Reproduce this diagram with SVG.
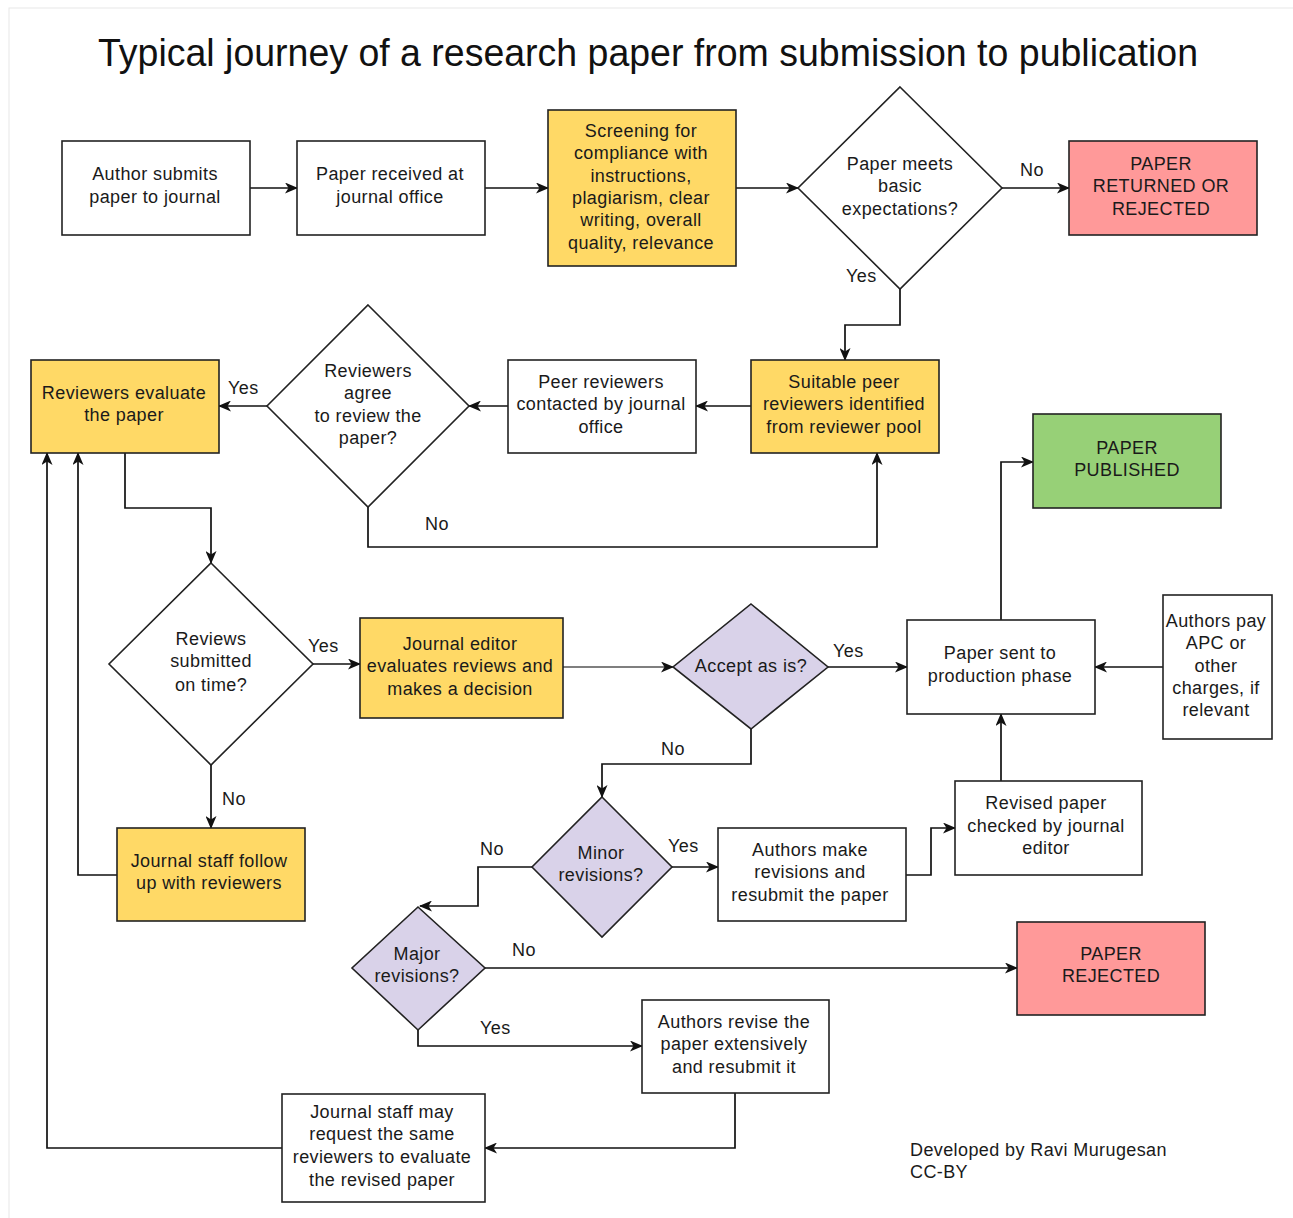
<svg xmlns="http://www.w3.org/2000/svg" width="1293" height="1218" viewBox="0 0 1293 1218">
<defs>
<style>
.n{stroke:#222;stroke-width:1.6}
.w{fill:#fff}
.y{fill:#ffd966}
.r{fill:#ff9999}
.g{fill:#97d077}
.p{fill:#d9d2e9}
.t{font-family:"Liberation Sans",Arial,sans-serif;font-size:18px;letter-spacing:0.4px;fill:#1a1a1a;text-anchor:middle}
.l{font-family:"Liberation Sans",Arial,sans-serif;font-size:18px;letter-spacing:0.4px;fill:#1a1a1a}
.c{fill:none;stroke:#111;stroke-width:1.7}
</style>
<marker id="a" viewBox="0 0 13 11" refX="12" refY="5.5" markerWidth="13" markerHeight="11" markerUnits="userSpaceOnUse" orient="auto">
<path d="M0,0 L13,5.5 L0,11 L3.5,5.5 Z" fill="#111"/>
</marker>
</defs>
<rect x="0" y="0" width="1293" height="1218" fill="#fff"/>
<rect x="9" y="8" width="1290" height="1220" fill="none" stroke="#e8e8e8" stroke-width="1"/>
<text x="648" y="66" font-family="Liberation Sans,Arial,sans-serif" font-size="38" fill="#111" text-anchor="middle" textLength="1100" lengthAdjust="spacingAndGlyphs">Typical journey of a research paper from submission to publication</text>

<g id="connectors">
<path class="c" d="M250,188 H297" marker-end="url(#a)"/>
<path class="c" d="M485,188 H548" marker-end="url(#a)"/>
<path class="c" d="M736,188 H798" marker-end="url(#a)"/>
<path class="c" d="M1002,188 H1069" marker-end="url(#a)"/>
<path class="c" d="M900,289 V325 H845 V360" marker-end="url(#a)"/>
<path class="c" d="M751,406 H696" marker-end="url(#a)"/>
<path class="c" d="M508,406 H469" marker-end="url(#a)"/>
<path class="c" d="M267,406 H219" marker-end="url(#a)"/>
<path class="c" d="M368,507 V547 H877 V453" marker-end="url(#a)"/>
<path class="c" d="M125,453 V508 H211 V563" marker-end="url(#a)"/>
<path class="c" d="M313,664 H360" marker-end="url(#a)"/>
<path class="c" d="M211,765 V828" marker-end="url(#a)"/>
<path class="c" d="M117,875 H78 V453" marker-end="url(#a)"/>
<path class="c" d="M282,1148 H47 V453" marker-end="url(#a)"/>
<path class="c" d="M563,667 H673" marker-end="url(#a)" style="stroke:#555"/>
<path class="c" d="M828,667 H907" marker-end="url(#a)"/>
<path class="c" d="M751,729 V764 H602 V797" marker-end="url(#a)"/>
<path class="c" d="M672,867 H718" marker-end="url(#a)"/>
<path class="c" d="M532,867 H478 V906 H420" marker-end="url(#a)"/>
<path class="c" d="M485,968 H1017" marker-end="url(#a)"/>
<path class="c" d="M418,1030 V1046 H642" marker-end="url(#a)"/>
<path class="c" d="M735,1093 V1148 H485" marker-end="url(#a)"/>
<path class="c" d="M906,875 H931 V828 H955" marker-end="url(#a)"/>
<path class="c" d="M1001,781 V714" marker-end="url(#a)"/>
<path class="c" d="M1001,620 V462 H1033" marker-end="url(#a)"/>
<path class="c" d="M1163,667 H1095" marker-end="url(#a)"/>
<text class="l" x="1020" y="176">No</text>
<text class="l" x="846" y="282">Yes</text>
<text class="l" x="228" y="394">Yes</text>
<text class="l" x="425" y="530">No</text>
<text class="l" x="308" y="652">Yes</text>
<text class="l" x="222" y="805">No</text>
<text class="l" x="833" y="657">Yes</text>
<text class="l" x="661" y="755">No</text>
<text class="l" x="668" y="852">Yes</text>
<text class="l" x="480" y="855">No</text>
<text class="l" x="512" y="956">No</text>
<text class="l" x="480" y="1034">Yes</text>
</g>

<g id="n1"><rect class="n w" x="62" y="141" width="188" height="94"/><text class="t"><tspan x="155" y="180">Author submits</tspan><tspan x="155" y="203">paper to journal</tspan></text></g>
<g id="n2"><rect class="n w" x="297" y="141" width="188" height="94"/><text class="t"><tspan x="390" y="180">Paper received at</tspan><tspan x="390" y="203">journal office</tspan></text></g>
<g id="n3"><rect class="n y" x="548" y="110" width="188" height="156"/><text class="t"><tspan x="641" y="137">Screening for</tspan><tspan x="641" y="159">compliance with</tspan><tspan x="641" y="182">instructions,</tspan><tspan x="641" y="204">plagiarism, clear</tspan><tspan x="641" y="226">writing, overall</tspan><tspan x="641" y="249">quality, relevance</tspan></text></g>
<g id="n4"><polygon class="n w" points="900,87 1002,188 900,289 798,188"/><text class="t"><tspan x="900" y="170">Paper meets</tspan><tspan x="900" y="192">basic</tspan><tspan x="900" y="215">expectations?</tspan></text></g>
<g id="n5"><rect class="n r" x="1069" y="141" width="188" height="94"/><text class="t"><tspan x="1161" y="170">PAPER</tspan><tspan x="1161" y="192">RETURNED OR</tspan><tspan x="1161" y="215">REJECTED</tspan></text></g>
<g id="n6"><rect class="n y" x="751" y="360" width="188" height="93"/><text class="t"><tspan x="844" y="388">Suitable peer</tspan><tspan x="844" y="410">reviewers identified</tspan><tspan x="844" y="433">from reviewer pool</tspan></text></g>
<g id="n7"><rect class="n w" x="508" y="360" width="188" height="93"/><text class="t"><tspan x="601" y="388">Peer reviewers</tspan><tspan x="601" y="410">contacted by journal</tspan><tspan x="601" y="433">office</tspan></text></g>
<g id="n8"><polygon class="n w" points="368,305 469,406 368,507 267,406"/><text class="t"><tspan x="368" y="377">Reviewers</tspan><tspan x="368" y="399">agree</tspan><tspan x="368" y="422">to review the</tspan><tspan x="368" y="444">paper?</tspan></text></g>
<g id="n9"><rect class="n y" x="31" y="360" width="188" height="93"/><text class="t"><tspan x="124" y="399">Reviewers evaluate</tspan><tspan x="124" y="421">the paper</tspan></text></g>
<g id="n10"><polygon class="n w" points="211,563 313,664 211,765 109,664"/><text class="t"><tspan x="211" y="645">Reviews</tspan><tspan x="211" y="667">submitted</tspan><tspan x="211" y="691">on time?</tspan></text></g>
<g id="n11"><rect class="n y" x="360" y="618" width="203" height="100"/><text class="t"><tspan x="460" y="650">Journal editor</tspan><tspan x="460" y="672">evaluates reviews and</tspan><tspan x="460" y="695">makes a decision</tspan></text></g>
<g id="n12"><polygon class="n p" points="751,604 828,667 751,729 673,667"/><text class="t"><tspan x="751" y="672">Accept as is?</tspan></text></g>
<g id="n13"><rect class="n w" x="907" y="620" width="188" height="94"/><text class="t"><tspan x="1000" y="659">Paper sent to</tspan><tspan x="1000" y="682">production phase</tspan></text></g>
<g id="n14"><rect class="n w" x="1163" y="595" width="109" height="144"/><text class="t"><tspan x="1216" y="627">Authors pay</tspan><tspan x="1216" y="649">APC or</tspan><tspan x="1216" y="672">other</tspan><tspan x="1216" y="694">charges, if</tspan><tspan x="1216" y="716">relevant</tspan></text></g>
<g id="n15"><rect class="n g" x="1033" y="414" width="188" height="94"/><text class="t"><tspan x="1127" y="454">PAPER</tspan><tspan x="1127" y="476">PUBLISHED</tspan></text></g>
<g id="n16"><rect class="n w" x="955" y="781" width="187" height="94"/><text class="t"><tspan x="1046" y="809">Revised paper</tspan><tspan x="1046" y="832">checked by journal</tspan><tspan x="1046" y="854">editor</tspan></text></g>
<g id="n17"><polygon class="n p" points="602,797 672,867 602,937 532,867"/><text class="t"><tspan x="601" y="859">Minor</tspan><tspan x="601" y="881">revisions?</tspan></text></g>
<g id="n18"><rect class="n w" x="718" y="828" width="188" height="93"/><text class="t"><tspan x="810" y="856">Authors make</tspan><tspan x="810" y="878">revisions and</tspan><tspan x="810" y="901">resubmit the paper</tspan></text></g>
<g id="n19"><polygon class="n p" points="418,907 485,968 418,1030 352,968"/><text class="t"><tspan x="417" y="960">Major</tspan><tspan x="417" y="982">revisions?</tspan></text></g>
<g id="n20"><rect class="n r" x="1017" y="922" width="188" height="93"/><text class="t"><tspan x="1111" y="960">PAPER</tspan><tspan x="1111" y="982">REJECTED</tspan></text></g>
<g id="n21"><rect class="n w" x="642" y="1000" width="187" height="93"/><text class="t"><tspan x="734" y="1028">Authors revise the</tspan><tspan x="734" y="1050">paper extensively</tspan><tspan x="734" y="1073">and resubmit it</tspan></text></g>
<g id="n22"><rect class="n w" x="282" y="1094" width="203" height="108"/><text class="t"><tspan x="382" y="1118">Journal staff may</tspan><tspan x="382" y="1140">request the same</tspan><tspan x="382" y="1163">reviewers to evaluate</tspan><tspan x="382" y="1186">the revised paper</tspan></text></g>
<g id="n23"><rect class="n y" x="117" y="828" width="188" height="93"/><text class="t"><tspan x="209" y="867">Journal staff follow</tspan><tspan x="209" y="889">up with reviewers</tspan></text></g>
<g id="footer"><text class="l"><tspan x="910" y="1156">Developed by Ravi Murugesan</tspan><tspan x="910" y="1178">CC-BY</tspan></text></g>
</svg>
